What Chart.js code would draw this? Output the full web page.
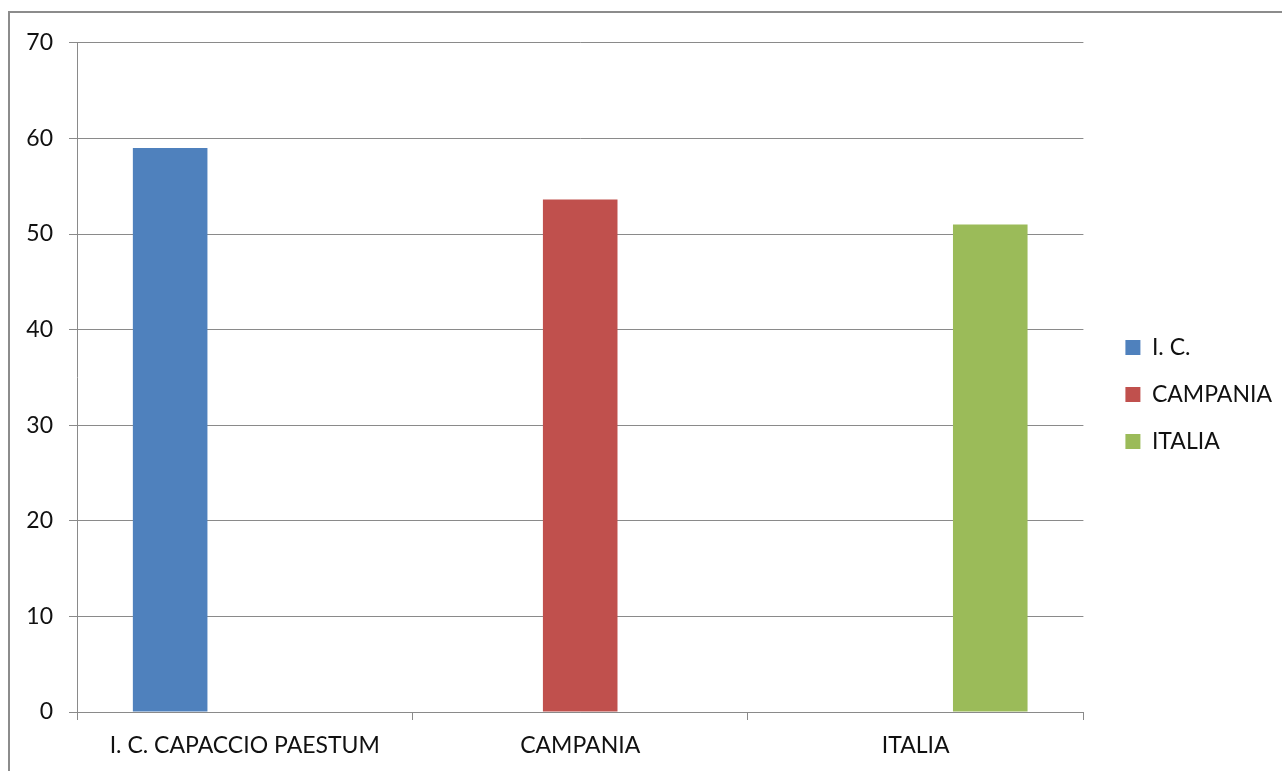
<!DOCTYPE html>
<html>
<head>
<meta charset="utf-8">
<script src="https://cdn.jsdelivr.net/npm/chart.js@4"></script>
<style>
    html, body { margin: 0; padding: 0; background: #fff; overflow: hidden; }
    #frame {
        position: absolute; left: 8px; top: 11px;
        width: 1274px; height: 760px;
        border-left: 2px solid #8c8c8c; border-top: 2px solid #8c8c8c;
    }
    #myChart { display: block; }
</style>
</head>
<body>
<div id="frame"><canvas id="myChart" width="1272" height="758"></canvas></div>
<script>
var categories = ['I. C. CAPACCIO PAESTUM', 'CAMPANIA', 'ITALIA'];
var seriesNames = ['I. C.', 'CAMPANIA', 'ITALIA'];
var icValues = [59, null, null];
var campaniaValues = [null, 53.6, null];
var italiaValues = [null, null, 51];
var seriesColors = ['#4f81bd', '#c0504d', '#9bbb59'];
var yTicks = [0, 10, 20, 30, 40, 50, 60, 70];

var gridColor = '#8a8a8a';
Chart.defaults.font.family = 'Lato, "Open Sans", sans-serif';
Chart.defaults.font.size = 23;
Chart.defaults.color = '#111';

var ctx = document.getElementById('myChart');
var myChart = new Chart(ctx, {
    type: 'bar',
    data: {
        labels: categories,
        datasets: [
            { label: seriesNames[0], data: icValues, backgroundColor: seriesColors[0] },
            { label: seriesNames[1], data: campaniaValues, backgroundColor: seriesColors[1] },
            { label: seriesNames[2], data: italiaValues, backgroundColor: seriesColors[2] }
        ]
    },
    options: {
        responsive: false,
        animation: false,
        categoryPercentage: 0.667,
        barPercentage: 1,
        layout: { padding: { top: 27, left: 0, right: 0, bottom: 0 } },
        plugins: {
            tooltip: { enabled: false },
            legend: {
                position: 'right',
                align: 'start',
                // empty title used only to push the items down to mid height
                title: { display: true, text: '', font: { size: 10 }, padding: { top: 260, bottom: 0 } },
                labels: { boxWidth: 15, boxHeight: 15, padding: 24 }
            }
        },
        scales: {
            x: {
                grid: { drawOnChartArea: false, drawTicks: true, tickLength: 8, color: gridColor, offset: true },
                border: { display: true, color: gridColor },
                ticks: { padding: 12, maxRotation: 0 },
                afterFit: function(s) { s.height = 59; }
            },
            y: {
                min: 0,
                max: 70,
                afterBuildTicks: function(s) { s.ticks = yTicks.map(function(v) { return { value: v }; }); },
                grid: { color: gridColor, tickLength: 8 },
                border: { display: true, color: gridColor },
                ticks: { padding: 16 },
                afterFit: function(s) { s.width = 67; }
            },
            spacer: {
                type: 'linear',
                position: 'right',
                display: true,
                grid: { display: false },
                border: { display: false },
                ticks: { display: false },
                afterFit: function(s) { s.width = 18; }
            }
        }
    }
});
</script>
</body>
</html>
